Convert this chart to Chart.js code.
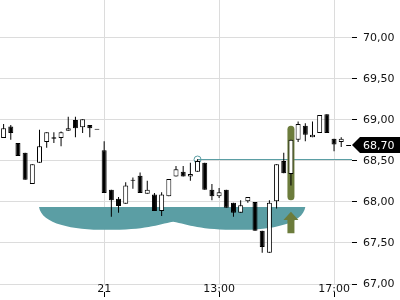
<!DOCTYPE html>
<html>
<head>
<meta charset="utf-8">
<script src="https://cdn.jsdelivr.net/npm/chart.js@4"></script>
<style>
  html, body { margin: 0; padding: 0; background: #fff; }
  #wrap { width: 400px; height: 300px; }
</style>
</head>
<body>
<div id="wrap"><canvas id="chart"></canvas></div>
<script>
// 15-Minuten-Kerzen, Vortag (20.) und Tag 21
const times = [
  '14:15', '14:30', '14:45', '15:00', '15:15', '15:30', '15:45', '16:00', '16:15', '16:30', '16:45', '17:00', '17:15', '17:30',
  '09:00', '09:15', '09:30', '09:45', '10:00', '10:15', '10:30', '10:45', '11:00', '11:15', '11:30', '11:45',
  '12:00', '12:15', '12:30', '12:45', '13:00', '13:15', '13:30', '13:45', '14:00', '14:15', '14:30', '14:45',
  '15:00', '15:15', '15:30', '15:45', '16:00', '16:15', '16:30', '16:45', '17:00', '17:15', ''
];
const opens  = [68.78, 68.92, 68.72, 68.60, 68.22, 68.48, 68.73, 68.79, 68.78, 68.87, 69.00, 68.91, 68.94, 68.88,
                68.63, 68.15, 68.04, 67.98, 68.26, 68.32, 68.10, 68.09, 67.89, 68.07, 68.31, 68.37, 68.31, 68.37,
                68.48, 68.15, 68.07, 68.15, 67.99, 67.87, 68.01, 68.00, 67.65, 67.38, 68.01, 68.50, 68.34, 68.76,
                68.93, 68.79, 68.84, 69.07, 68.77, 68.73];
const highs  = [68.95, 68.94, 68.72, 68.60, 68.46, 68.88, 68.85, 68.85, 68.86, 69.04, 69.04, 69.01, 68.94, 68.88,
                68.74, 68.15, 68.06, 68.24, 68.30, 68.36, 68.26, 68.11, 68.12, 68.28, 68.44, 68.44, 68.48, 68.52,
                68.48, 68.22, 68.17, 68.15, 67.99, 68.02, 68.06, 68.00, 67.65, 68.02, 68.46, 68.60, 68.76, 68.98,
                68.96, 68.98, 69.06, 69.07, 68.77, 68.79];
const lows   = [68.78, 68.76, 68.56, 68.27, 68.22, 68.48, 68.66, 68.72, 68.68, 68.87, 68.79, 68.84, 68.79, 68.88,
                68.11, 67.82, 67.87, 67.98, 68.16, 68.11, 68.10, 67.89, 67.83, 68.07, 68.31, 68.31, 68.26, 68.37,
                68.15, 68.02, 68.05, 67.93, 67.82, 67.87, 67.99, 67.65, 67.38, 67.38, 67.92, 68.35, 68.20, 68.73,
                68.74, 68.79, 68.84, 68.84, 68.62, 68.67];
const closes = [68.90, 68.84, 68.56, 68.27, 68.46, 68.68, 68.85, 68.77, 68.85, 68.90, 68.90, 69.01, 68.90, 68.88,
                68.11, 68.02, 67.95, 68.20, 68.26, 68.11, 68.15, 67.89, 68.09, 68.28, 68.40, 68.31, 68.34, 68.50,
                68.15, 68.07, 68.12, 67.93, 67.87, 67.96, 68.06, 67.65, 67.45, 67.99, 68.46, 68.35, 68.76, 68.95,
                68.82, 68.82, 69.06, 68.84, 68.70, 68.77];

const tickAt = [14, 30, 46];
const tickNames = ['21', '13:00', '17:00'];
const lastPrice = 68.70;

// Widerstandslinie
const levelFrom = 27;
const levelPrice = 68.52;

// Untertassen-Formation
const bowlFrom = 4.93, bowlCusp = 23.6, bowlTo = 42;
const bowlTop = 67.94, bowlCuspLow = 67.76, bowlLow = 67.66;

// Ausbruchskerze + Pfeil
const signalAt = 40;
const signalTop = 68.93, signalBottom = 68.02;
const arrowTip = 67.88, arrowHead = 67.78, arrowEnd = 67.62;

const TEAL = '#5b9ea4';
const OLIVE = '#6c7c3c';
const fmt = v => v.toFixed(2).replace('.', ',');

const overlays = {
  id: 'overlays',
  beforeDatasetsDraw(chart) {
    const { ctx, chartArea: a, scales: { x, y } } = chart;
    ctx.save();

    // teal bowl
    const x0 = x.getPixelForValue(bowlFrom), x1 = x.getPixelForValue(bowlCusp), x2 = x.getPixelForValue(bowlTo);
    const yt = y.getPixelForValue(bowlTop), yc = y.getPixelForValue(bowlCuspLow), yb = y.getPixelForValue(bowlLow);
    const w1 = x1 - x0, w2 = x2 - x1;
    const m1 = x0 + w1 / 2, m2 = x1 + w2 / 2;
    ctx.fillStyle = TEAL;
    ctx.beginPath();
    ctx.moveTo(x0, yt);
    ctx.lineTo(x2, yt);
    ctx.bezierCurveTo(x2 - 0.02 * w2, yb - 6, x2 - 0.25 * w2, yb, m2, yb);
    ctx.bezierCurveTo(m2 - 0.3 * w2, yb, x1 + 0.12 * w2, yc + 3, x1, yc);
    ctx.bezierCurveTo(x1 - 0.12 * w1, yc + 3, m1 + 0.3 * w1, yb, m1, yb);
    ctx.bezierCurveTo(m1 - 0.25 * w1, yb, x0 + 0.02 * w1, yb - 6, x0, yt);
    ctx.closePath();
    ctx.fill();

    // level line + circle
    const lx = x.getPixelForValue(levelFrom), ly = Math.round(y.getPixelForValue(levelPrice)) + 0.5;
    ctx.strokeStyle = TEAL;
    ctx.lineWidth = 1;
    ctx.beginPath();
    ctx.moveTo(lx, ly);
    ctx.lineTo(a.right, ly);
    ctx.stroke();
    ctx.beginPath();
    ctx.arc(lx, ly, 3.5, 0, Math.PI * 2);
    ctx.stroke();

    // signal highlight
    const sx = x.getPixelForValue(signalAt);
    const st = y.getPixelForValue(signalTop), sb = y.getPixelForValue(signalBottom);
    ctx.fillStyle = OLIVE;
    ctx.beginPath();
    ctx.roundRect(sx - 3.5, st, 7, sb - st, 3.5);
    ctx.fill();

    // arrow
    const at = y.getPixelForValue(arrowTip), ah = y.getPixelForValue(arrowHead), ae = y.getPixelForValue(arrowEnd);
    ctx.beginPath();
    ctx.moveTo(sx, at);
    ctx.lineTo(sx + 7.5, ah);
    ctx.lineTo(sx + 3.5, ah);
    ctx.lineTo(sx + 3.5, ae);
    ctx.lineTo(sx - 3.5, ae);
    ctx.lineTo(sx - 3.5, ah);
    ctx.lineTo(sx - 7.5, ah);
    ctx.closePath();
    ctx.fill();
    ctx.restore();
  },
  afterDraw(chart) {
    const { ctx, chartArea: a, scales: { x, y } } = chart;
    const py = Math.round(y.getPixelForValue(lastPrice));
    ctx.save();
    // kurzer Strich am letzten Kurs
    ctx.strokeStyle = '#000';
    ctx.beginPath();
    ctx.moveTo(x.getPixelForValue(opens.length - 1) + 5, py + 0.5);
    ctx.lineTo(a.right - 1, py + 0.5);
    ctx.stroke();
    // Kursmarke
    ctx.fillStyle = '#000';
    ctx.beginPath();
    ctx.moveTo(a.right, py);
    ctx.lineTo(a.right + 8, py - 8);
    ctx.lineTo(chart.width, py - 8);
    ctx.lineTo(chart.width, py + 8);
    ctx.lineTo(a.right + 8, py + 8);
    ctx.closePath();
    ctx.fill();
    ctx.fillStyle = '#fff';
    ctx.font = '11px "DejaVu Sans"';
    ctx.textBaseline = 'middle';
    ctx.fillText(fmt(lastPrice), a.right + 11, py + 1);
    ctx.restore();
  }
};

const bodies = opens.map((o, i) => [o, closes[i]]);
const wicks = lows.map((l, i) => [l, highs[i]]);
const bodyColors = opens.map((o, i) => closes[i] > o ? '#fff' : '#000');

new Chart(document.getElementById('chart'), {
  type: 'bar',
  data: {
    labels: times,
    datasets: [{
      data: bodies,
      backgroundColor: bodyColors,
      borderColor: '#000',
      borderWidth: 1,
      borderSkipped: false,
      barThickness: 5,
      minBarLength: 1,
      inflateAmount: 0,
      grouped: false
    }, {
      data: wicks,
      backgroundColor: '#000',
      borderWidth: 0,
      barThickness: 1,
      inflateAmount: 0,
      grouped: false
    }]
  },
  options: {
    responsive: true,
    maintainAspectRatio: false,
    animation: false,
    layout: { padding: 0 },
    plugins: { legend: { display: false }, tooltip: { enabled: false } },
    scales: {
      x: {
        offset: true,
        border: { display: false },
        grid: {
          offset: false,
          color: c => tickAt.includes(c.index) ? '#dcdcdc' : 'rgba(0,0,0,0)',
          tickColor: c => tickAt.includes(c.index) ? '#000' : 'rgba(0,0,0,0)',
          tickLength: 13,
          tickBorderDash: [0, 8, 5, 100]
        },
        ticks: {
          autoSkip: false,
          maxRotation: 0,
          padding: -14,
          color: '#111',
          font: { family: 'DejaVu Sans', size: 11 },
          callback: (v, i) => {
            const k = tickAt.indexOf(i);
            return k >= 0 ? tickNames[k] : '';
          }
        },
        afterFit: s => { s.height = 16; s.paddingLeft = 0; s.paddingRight = 0; }
      },
      y: {
        position: 'right',
        min: 67,
        max: 70.463,
        border: { display: false },
        grid: { color: '#dcdcdc', tickColor: '#000', tickLength: 5 },
        ticks: {
          stepSize: 0.5,
          includeBounds: false,
          padding: 6,
          color: '#111',
          font: { family: 'DejaVu Sans', size: 11 },
          callback: v => fmt(v)
        },
        afterFit: s => { s.width = 48; s.paddingTop = 0; s.paddingBottom = 0; }
      }
    }
  },
  plugins: [overlays]
});
</script>
</body>
</html>
